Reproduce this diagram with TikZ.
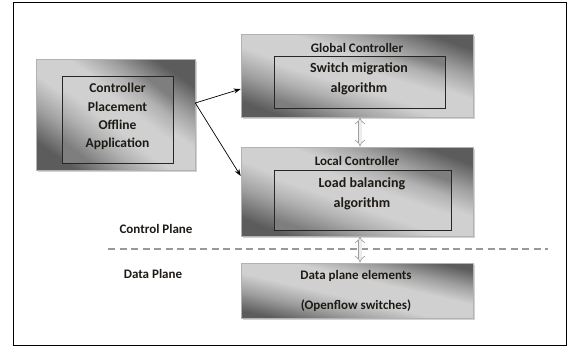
\documentclass[tikz,border=0pt]{standalone}
\usepackage{fontspec}
\setmainfont{Carlito}
\usetikzlibrary{arrows.meta,shadows}
\definecolor{sdark}{HTML}{5C5C5C}
\definecolor{smid}{HTML}{A0A0A0}
\definecolor{slight}{HTML}{D0D0D0}
\definecolor{idark}{HTML}{7E7E7E}
\definecolor{imid}{HTML}{B0B0B0}
\definecolor{txt}{HTML}{1E1A16}
\pgfdeclarehorizontalshading{boxshade}{100bp}{color(0bp)=(sdark); color(24bp)=(sdark); color(35bp)=(smid); color(45bp)=(slight); color(57bp)=(slight); color(66bp)=(smid); color(76bp)=(sdark); color(100bp)=(sdark)}
\pgfdeclarehorizontalshading{innershade}{100bp}{color(0bp)=(idark); color(24bp)=(idark); color(36bp)=(imid); color(46bp)=(slight); color(58bp)=(slight); color(68bp)=(imid); color(76bp)=(idark); color(100bp)=(idark)}
\tikzset{
  outerbox/.style={draw=gray!60, line width=0.6pt, shading=boxshade,
    drop shadow={shadow xshift=2pt, shadow yshift=-2pt, fill=gray!35, opacity=1}, inner sep=0pt},
  innerbox/.style={draw=black!85, line width=0.9pt, shading=innershade, inner sep=0pt},
  lbl/.style={font=\bfseries\fontsize{13}{16}\selectfont, text=txt, inner sep=0pt, align=center},
  big/.style={font=\bfseries\fontsize{14}{20}\selectfont, text=txt, inner sep=0pt, align=center},
  arr/.style={line width=0.7pt, -{Stealth[length=7pt,width=5pt]}},
  dbl/.style={draw=gray!75, double=gray!15, double distance=3pt, line width=0.7pt, {Implies}-{Implies}},
}
\begin{document}
\begin{tikzpicture}[x=1pt,y=-1pt]
\useasboundingbox (0,0) rectangle (568,351);
\draw[line width=1pt] (13.5,2.5) rectangle (566.5,345.5);
% left box
\node[outerbox, shading angle=55, minimum width=159pt, minimum height=111pt] (lb) at (115.5,114.5) {};
\node[innerbox, shading angle=52, minimum width=111pt, minimum height=87pt] (lbi) at (117.5,119.5) {};
\node[lbl, font=\bfseries\fontsize{13.5}{18.3}\selectfont] (lbt) at (117.5,116.5) {Controller\\Placement\\Offline\\Application};
% global controller
\node[outerbox, shading angle=70, minimum width=232pt, minimum height=83pt] (gc) at (357,75.5) {};
\node[lbl] (gct) at (357,48) {Global Controller};
\node[innerbox, shading angle=73, minimum width=171pt, minimum height=52pt] (gci) at (359.5,82) {};
\node[big] (gcit) at (359,79) {Switch migration\\algorithm};
% local controller
\node[outerbox, shading angle=69, minimum width=232pt, minimum height=89pt] (lc) at (357,191.5) {};
\node[lbl] (lct) at (357,161) {Local Controller};
\node[innerbox, shading angle=71, minimum width=177pt, minimum height=60pt] (lci) at (362.5,200) {};
\node[big] (lcit) at (362,193.5) {Load balancing\\algorithm};
% data plane
\node[outerbox, shading angle=77, minimum width=232pt, minimum height=55pt] (dp) at (357,290.5) {};
\node[lbl, font=\bfseries\fontsize{13}{30}\selectfont] (dpt) at (356,291) {Data plane elements\\(Openflow switches)};
% plane labels
\node[lbl] (cp) at (156,229) {Control Plane};
\node[lbl] (dpl) at (153,274) {Data Plane};
% dashed separator
\coordinate (dl) at (108,249);
\coordinate (dr) at (548,249);
\draw[gray!80, line width=1.3pt, dash pattern=on 7pt off 4.5pt] (dl) -- (dr);
% arrows
\draw[arr] ([yshift=11.5pt]lb.east) -- ([yshift=-13.5pt]gc.west);
\draw[arr] ([yshift=11.5pt]lb.east) -- ([yshift=15.5pt]lc.west);
\draw[dbl] ([xshift=3pt]gc.south) -- ([xshift=3pt]lc.north);
\draw[dbl] ([xshift=3pt]lc.south) -- ([xshift=3pt]dp.north);
\end{tikzpicture}
\end{document}
